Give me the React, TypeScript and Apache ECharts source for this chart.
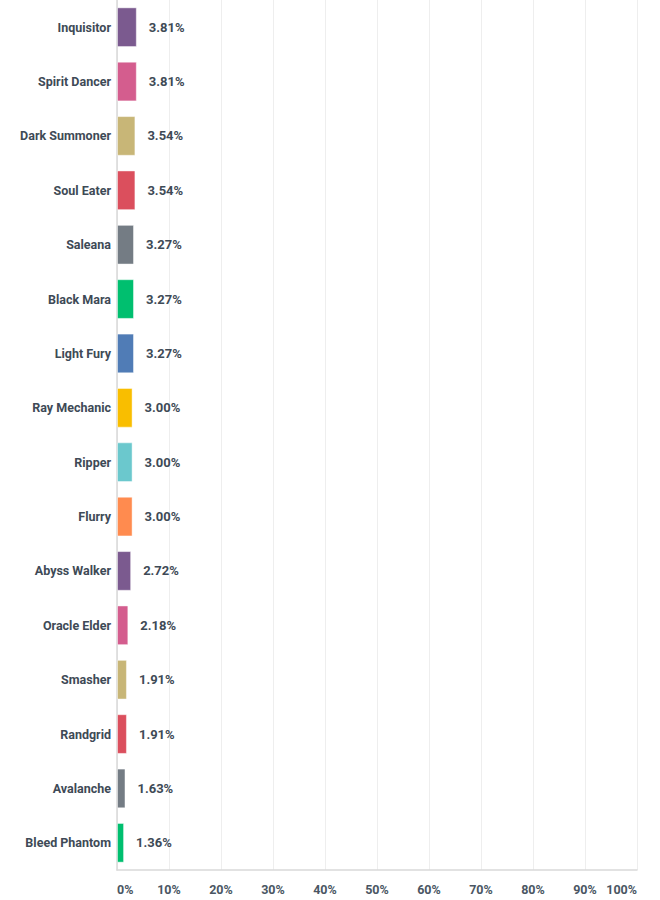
import * as echarts from "echarts";
import { useEffect, useRef } from "react";

const categories = [
  "Inquisitor",
  "Spirit Dancer",
  "Dark Summoner",
  "Soul Eater",
  "Saleana",
  "Black Mara",
  "Light Fury",
  "Ray Mechanic",
  "Ripper",
  "Flurry",
  "Abyss Walker",
  "Oracle Elder",
  "Smasher",
  "Randgrid",
  "Avalanche",
  "Bleed Phantom",
];

const values = [3.81, 3.81, 3.54, 3.54, 3.27, 3.27, 3.27, 3.0, 3.0, 3.0, 2.72, 2.18, 1.91, 1.91, 1.63, 1.36];

const palette = [
  "#7b5a8f",
  "#d45d8e",
  "#c8b677",
  "#db4f5d",
  "#747c84",
  "#00bf6f",
  "#507cb6",
  "#f9be00",
  "#6bc8cd",
  "#ff8b4f",
];

const textColor = "#3e4a56";

const App = () => {
  const chartRef = useRef<HTMLDivElement>(null);

  useEffect(() => {
    if (!chartRef.current) return;
    const chart = echarts.init(chartRef.current, null, { renderer: "svg" });

    const option = {
      animation: false,
      grid: { left: 117, right: 23, top: 0, bottom: 30, containLabel: false },
      xAxis: {
        type: "value",
        min: 0,
        max: 100,
        interval: 10,
        axisLine: { show: true, lineStyle: { color: "#d9d9d9", width: 1.5 } },
        axisTick: { show: false },
        splitLine: { show: true, lineStyle: { color: "#eeeeee" } },
        axisLabel: {
          formatter: "{value}%",
          color: "#4a5663",
          fontFamily: "Roboto",
          fontWeight: "bold",
          fontSize: 12.5,
          margin: 13,
          alignMinLabel: "left",
          alignMaxLabel: "right",
        },
      },
      yAxis: {
        type: "category",
        data: categories,
        inverse: true,
        axisLine: { show: true, lineStyle: { color: "#d9d9d9", width: 1.5 } },
        axisTick: { show: false },
        axisLabel: {
          color: textColor,
          fontFamily: "Roboto",
          fontWeight: "bold",
          fontSize: 12.5,
          margin: 6,
        },
      },
      series: [
        {
          type: "bar",
          barCategoryGap: "27%",
          data: values.map((v, i) => ({
            value: v,
            itemStyle: { color: palette[i % palette.length] },
          })),
          itemStyle: { borderColor: "rgba(255,255,255,0.45)", borderWidth: 1 },
          label: {
            show: true,
            position: "right",
            distance: 12,
            formatter: (p: { value: number }) => p.value.toFixed(2) + "%",
            color: textColor,
            fontFamily: "Roboto",
            fontWeight: "bold",
            fontSize: 13,
          },
        },
      ],
    };

    chart.setOption(option);
    return () => chart.dispose();
  }, []);

  return (
    <div
      ref={chartRef}
      style={{ position: "fixed", left: 0, top: 0, width: "660px", height: "900px", background: "#fff" }}
    />
  );
};

export default App;
